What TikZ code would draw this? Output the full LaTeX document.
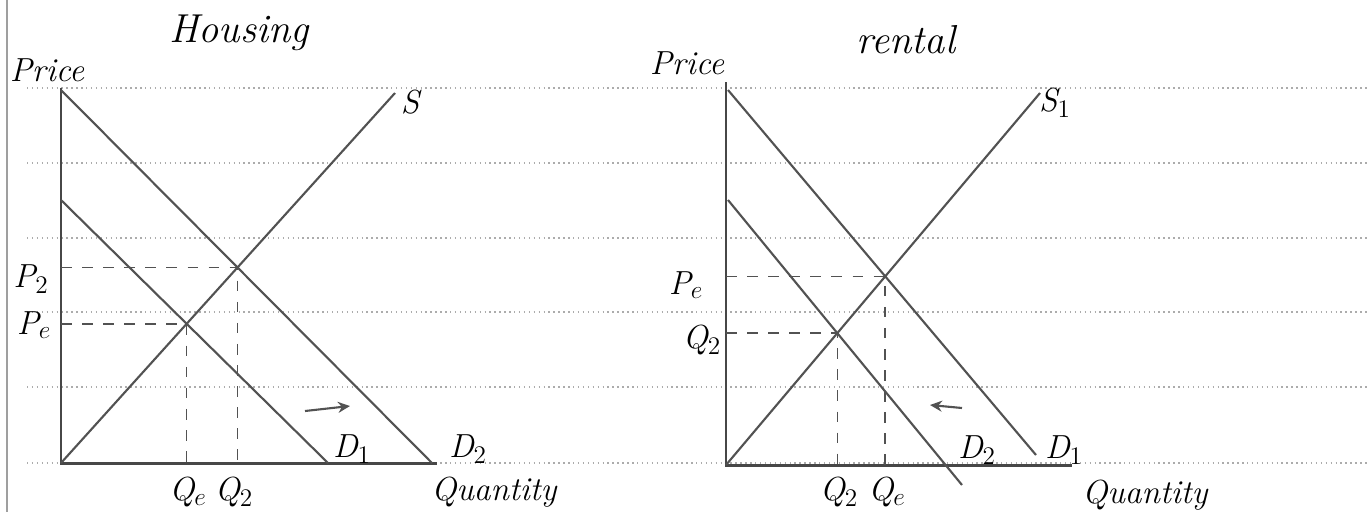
\documentclass[tikz,border=0pt]{standalone}
\usetikzlibrary{arrows.meta,intersections}
\begin{document}
\begin{tikzpicture}[x=0.02cm,y=-0.02cm,font=\itshape\fontsize{19}{21}\selectfont,>={Stealth[length=2.4mm,width=2.2mm]},rule/.style={gray!65, dotted, line width=0.8pt},axis/.style={black!72, line width=1.7pt},curve/.style={black!68, line width=1.2pt},guide/.style={black!68, line width=0.9pt, dash pattern=on 6pt off 6pt},tag/.style={inner sep=1pt},title/.style={font=\itshape\fontsize{23}{25}\selectfont}]
\useasboundingbox (0,0) rectangle (1367,512);
\fill[white] (0,0) rectangle (1367,512);
\draw[gray!75, line width=1pt] (7,0) -- (7,512);
\foreach \y in {88,163,238,312,387,463} \draw[rule] (27,\y) -- (1367,\y);
% housing market
\node[title] (hTitle) at (239,33) {Housing};\node[tag] (hPrice) at (47,70) {Price};
\coordinate (hO) at (61,463);\coordinate (hTop) at (61,88);\coordinate (hEnd) at (437,463);
\draw[axis] (hTop) -- (hO) -- (hEnd);
\draw[curve, name path=hD2] (61,90) -- (432,463);\draw[curve, name path=hD1] (61,200) -- (328,463);\draw[curve, name path=hS] (hO) -- (395,93);
\path[name intersections={of=hS and hD1, by=hE1}];\path[name intersections={of=hS and hD2, by=hE2}];
\draw[guide] (hTop |- hE1) -- (hE1) -- (hE1 |- hO);\draw[guide] (hTop |- hE2) -- (hE2) -- (hE2 |- hO);
\node[tag] (hS) at (410,102) {S};\node[tag] (hLD1) at (352,449) {D$_1$};\node[tag] (hLD2) at (468,449) {D$_2$};
\node[tag] (hP2) at (31,279) {P$_2$};\node[tag] (hPe) at (34,325) {P$_e$};
\node[tag] (hQe) at (188,492) {Q$_e$};\node[tag] (hQ2) at (234,492) {Q$_2$};\node[tag] (hQuant) at (494,492) {Quantity};
\draw[->, curve] (305,411) -- (350,406);
% rental market
\node[title] (rTitle) at (906,40) {rental};\node[tag] (rPrice) at (687,63) {Price};
\coordinate (rO) at (726,465);\coordinate (rTop) at (726,82);\coordinate (rEnd) at (1072,465);
\draw[axis] (rTop) -- (rO) -- (rEnd);
\draw[curve, name path=rD1] (728,90) -- (1036,455);\draw[curve, name path=rD2] (728,200) -- (962,485);\draw[curve, name path=rS] (rO) -- (1040,93);
\path[name intersections={of=rS and rD1, by=rE1}];\path[name intersections={of=rS and rD2, by=rE2}];
\draw[guide] (rTop |- rE1) -- (rE1) -- (rE1 |- rO);\draw[guide] (rTop |- rE2) -- (rE2) -- (rE2 |- rO);
\node[tag] (rS) at (1055,103) {S$_1$};\node[tag] (rLD2) at (977,450) {D$_2$};\node[tag] (rLD1) at (1064,450) {D$_1$};
\node[tag] (rPe) at (686,285) {P$_e$};\node[tag] (rQ2side) at (702,340) {Q$_2$};
\node[tag] (rQ2) at (839,492) {Q$_2$};\node[tag] (rQe) at (887,492) {Q$_e$};\node[tag] (rQuant) at (1145,495) {Quantity};
\draw[->, curve] (962,408) -- (930,405);
\end{tikzpicture}
\end{document}
